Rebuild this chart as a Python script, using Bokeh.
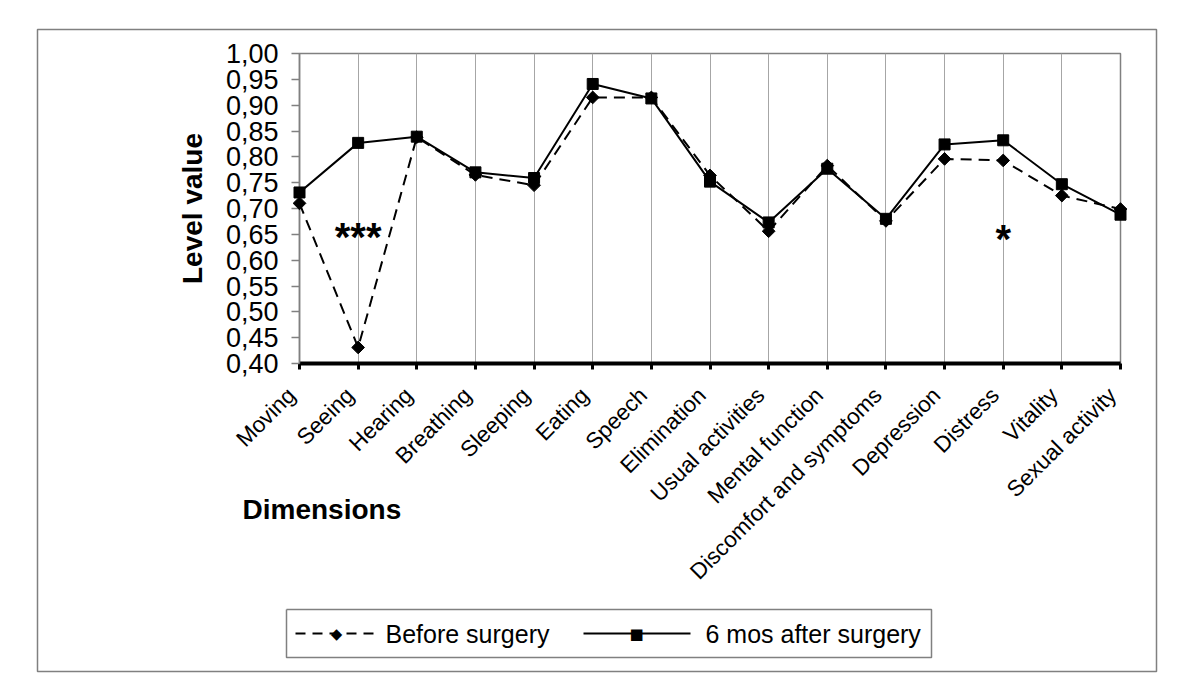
import math
from bokeh.plotting import figure
from bokeh.models import FixedTicker, CustomJSTickFormatter, Range1d
from bokeh.core.properties import value
from bokeh.embed import file_html
from bokeh.resources import INLINE

# ---------------- data ----------------
categories = ["Moving", "Seeing", "Hearing", "Breathing", "Sleeping", "Eating",
              "Speech", "Elimination", "Usual activities", "Mental function",
              "Discomfort and symptoms", "Depression", "Distress", "Vitality",
              "Sexual activity"]
before_surgery = [0.710, 0.431, 0.838, 0.765, 0.745, 0.915, 0.915, 0.764,
                  0.656, 0.783, 0.676, 0.796, 0.793, 0.725, 0.699]
after_6_months = [0.731, 0.827, 0.839, 0.770, 0.759, 0.941, 0.913, 0.752,
                  0.673, 0.777, 0.680, 0.824, 0.832, 0.747, 0.688]
y_ticks = [0.40, 0.45, 0.50, 0.55, 0.60, 0.65, 0.70, 0.75, 0.80, 0.85,
           0.90, 0.95, 1.00]
y_tick_labels = ["0,40", "0,45", "0,50", "0,55", "0,60", "0,65", "0,70",
                 "0,75", "0,80", "0,85", "0,90", "0,95", "1,00"]
series_labels = ["Before surgery", "6  mos after surgery"]
series_keys = ["\u25c6", "\u25a0"]
x_title = "Dimensions"
y_title = "Level value"
sig_text = ["***", "*"]
sig_category = ["Seeing", "Distress"]
sig_level = [0.644, 0.641]

FONT = "Liberation Sans"
GRAY = "#808080"

# ---------------- layout (page pixels) ----------------
FRAME_L, FRAME_T, FRAME_W, FRAME_H = 299, 53, 821, 310
FRAME_B = FRAME_T + FRAME_H

x = list(range(len(categories)))
Y0, Y1 = y_ticks[0], y_ticks[-1]
PX_PER_X = FRAME_W / (len(categories) - 1)
PX_PER_Y = FRAME_H / (Y1 - Y0)


def dx(px):
    """page pixel x -> data x"""
    return (px - FRAME_L) / PX_PER_X


def dy(py):
    """page pixel y -> data y"""
    return Y0 - (py - FRAME_B) / PX_PER_Y


p = figure(frame_width=FRAME_W, frame_height=FRAME_H, output_backend="svg",
           toolbar_location=None,
           x_range=Range1d(0, len(categories) - 1), y_range=Range1d(Y0, Y1),
           min_border_left=FRAME_L, min_border_right=60, min_border_top=FRAME_T,
           min_border_bottom=312)
p.background_fill_color = "white"
p.border_fill_color = "white"
p.outline_line_color = GRAY
p.outline_line_width = 1.5

# x axis: line + ticks from the axis; rotated category names as text glyphs
p.xaxis.ticker = FixedTicker(ticks=x)
p.xaxis.major_label_overrides = {i: "" for i in x}
p.xaxis.major_label_standoff = 0
p.xaxis.axis_line_color = "black"
p.xaxis.axis_line_width = 4
p.xaxis.major_tick_line_color = "black"
p.xaxis.major_tick_line_width = 3
p.xaxis.major_tick_out = 6
p.xaxis.major_tick_in = 0
p.xaxis.minor_tick_line_color = None

p.text(x=x, y=[Y0] * len(x), text=categories, angle=math.pi / 4,
       x_offset=-8, y_offset=28, text_font=value(FONT), text_font_size="22.5px",
       text_align="right", text_baseline="middle", text_color="black",
       level="overlay")

# y axis
p.yaxis.ticker = FixedTicker(ticks=y_ticks)
p.yaxis.formatter = CustomJSTickFormatter(args=dict(vals=y_ticks, labs=y_tick_labels), code="""
    let best = 0, d = 1e9;
    for (let i = 0; i < vals.length; i++) {
        const dd = Math.abs(vals[i] - tick);
        if (dd < d) { d = dd; best = i; }
    }
    return labs[best];
""")
p.yaxis.major_label_text_font = FONT
p.yaxis.major_label_text_font_size = "27px"
p.yaxis.major_label_text_color = "black"
p.yaxis.axis_line_color = GRAY
p.yaxis.axis_line_width = 1.5
p.yaxis.major_tick_line_color = GRAY
p.yaxis.major_tick_line_width = 1.5
p.yaxis.major_tick_out = 8
p.yaxis.major_tick_in = 0
p.yaxis.minor_tick_line_color = None
p.yaxis.major_label_standoff = 13
p.yaxis.axis_label = y_title
p.yaxis.axis_label_text_font = FONT
p.yaxis.axis_label_text_font_size = "28px"
p.yaxis.axis_label_text_font_style = "bold"
p.yaxis.axis_label_text_color = "black"
p.yaxis.axis_label_standoff = 15

# grid
p.xgrid.grid_line_color = "#a6a6a6"
p.xgrid.grid_line_width = 1
p.ygrid.grid_line_color = None

# series
p.line(x, before_surgery, line_color="black", line_width=2, line_dash="11 7")
p.scatter(x, before_surgery, marker="square", angle=math.pi / 4, size=9,
          fill_color="black", line_color="black", level="overlay")
p.line(x, after_6_months, line_color="black", line_width=2)
p.scatter(x, after_6_months, marker="square", size=11,
          fill_color="black", line_color="black", level="overlay")

# significance marks
p.text(x=[categories.index(c) for c in sig_category], y=sig_level, text=sig_text,
       text_font=value(FONT), text_font_size="40px", text_font_style="bold",
       text_align="center", text_baseline="middle", text_color="black",
       level="overlay")

# x axis title, placed left as in the original (anchored at the axis origin, offset in px)
p.text(x=[0], y=[Y0], text=[x_title], x_offset=242 - FRAME_L, y_offset=509 - FRAME_B,
       text_font=value(FONT), text_font_size="28px", text_font_style="bold",
       text_align="left", text_baseline="middle", text_color="black",
       level="overlay")

# outer chart border
p.quad(left=[dx(37)], right=[dx(1156)], top=[dy(29)], bottom=[dy(671)],
       fill_alpha=0, line_color=GRAY, line_width=1.5, level="overlay")

# ---------------- legend (built from glyphs below the plot) ----------------
LG_L, LG_R, LG_T, LG_B = 286, 931, 609, 657
LG_CY = (LG_T + LG_B) / 2
p.line(x=[dx(LG_L), dx(LG_R), dx(LG_R), dx(LG_L), dx(LG_L)],
       y=[dy(LG_T), dy(LG_T), dy(LG_B), dy(LG_B), dy(LG_T)],
       line_color=GRAY, line_width=1.5, level="overlay")
# key lines
p.line(x=[dx(295), dx(377)], y=[dy(LG_CY)] * 2, line_color="black", line_width=2,
       line_dash="10 7", level="overlay")
p.line(x=[dx(583), dx(690)], y=[dy(LG_CY)] * 2, line_color="black", line_width=2,
       level="overlay")
# key markers
p.text(x=[0, 0], y=[Y0, Y0], text=series_keys,
       x_offset=[336 - FRAME_L, 636 - FRAME_L], y_offset=[LG_CY - FRAME_B] * 2,
       text_font=value("DejaVu Sans"), text_font_size="15px",
       text_align="center", text_baseline="middle", text_color="black",
       level="overlay")
# key labels
p.text(x=[0, 0], y=[Y0, Y0], text=series_labels,
       x_offset=[385 - FRAME_L, 705 - FRAME_L], y_offset=[LG_CY - FRAME_B] * 2,
       text_font=value(FONT), text_font_size="25px",
       text_align="left", text_baseline="middle", text_color="black",
       level="overlay")

open("out.html", "w").write(file_html(p, INLINE))
